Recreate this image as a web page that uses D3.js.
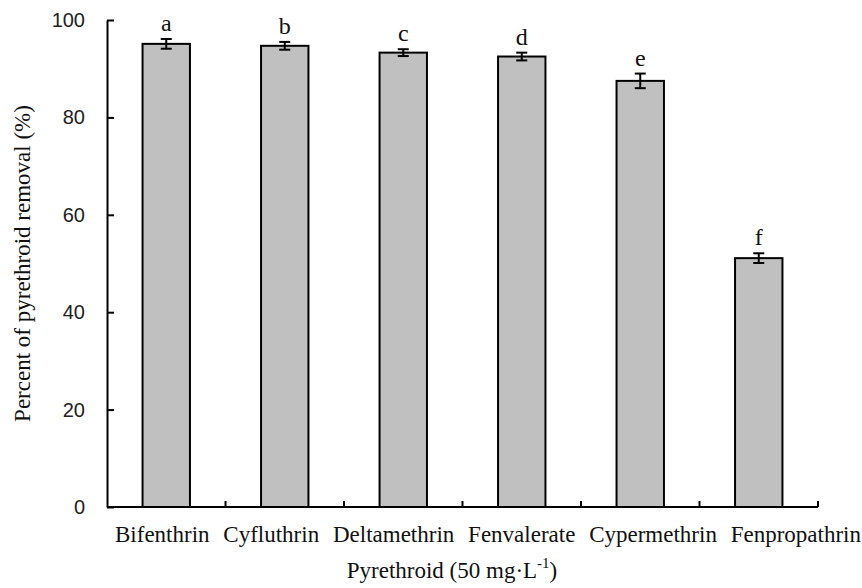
<!DOCTYPE html>
<html>
<head>
<meta charset="utf-8">
<script src="https://cdn.jsdelivr.net/npm/d3@7"></script>
<style>
  html, body { margin: 0; padding: 0; background: #fff; }
  svg { display: block; }
</style>
</head>
<body>
<svg id="chart" width="862" height="588"></svg>
<script>
// Pyrethroid removal by the strain, 50 mg/L initial concentration
const categories = ["Bifenthrin", "Cyfluthrin", "Deltamethrin", "Fenvalerate", "Cypermethrin", "Fenpropathrin"];
const removal = [95.1, 94.7, 93.3, 92.5, 87.5, 51.1];
const errors = [1.0, 0.8, 0.7, 0.8, 1.5, 1.0];
const groups = ["a", "b", "c", "d", "e", "f"];
const yTicks = [0, 20, 40, 60, 80, 100];

const svg = d3.select("#chart");
const margin = { left: 107, right: 44, top: 20, bottom: 81 };
const W = 862, H = 588;
const plotRight = W - margin.right;
const plotBottom = H - margin.bottom;

const serif = "'Liberation Serif', 'Times New Roman', serif";
const sans = "'Liberation Sans', Arial, sans-serif";

const x = d3.scaleBand().domain(categories).range([margin.left, plotRight]).padding(0);
const y = d3.scaleLinear().domain([0, 100]).range([plotBottom, margin.top]);

const barW = x.bandwidth() * 0.4;

// Bars
svg.append("g").selectAll("rect")
  .data(categories)
  .join("rect")
  .attr("x", (d) => x(d) + (x.bandwidth() - barW) / 2)
  .attr("y", (d, i) => y(removal[i]))
  .attr("width", barW)
  .attr("height", (d, i) => y(0) - y(removal[i]))
  .attr("fill", "#c0c0c0")
  .attr("stroke", "#000")
  .attr("stroke-width", 2);

// Error bars
const capW = 11;
const eb = svg.append("g").attr("stroke", "#000").attr("stroke-width", 2);
categories.forEach((c, i) => {
  const cx = x(c) + x.bandwidth() / 2;
  const hi = y(removal[i] + errors[i]);
  const lo = y(removal[i] - errors[i]);
  eb.append("line").attr("x1", cx).attr("x2", cx).attr("y1", hi).attr("y2", lo);
  eb.append("line").attr("x1", cx - capW / 2).attr("x2", cx + capW / 2).attr("y1", hi).attr("y2", hi);
  eb.append("line").attr("x1", cx - capW / 2).attr("x2", cx + capW / 2).attr("y1", lo).attr("y2", lo);
});

// Significance letters
svg.append("g").selectAll("text")
  .data(groups)
  .join("text")
  .attr("x", (d, i) => x(categories[i]) + x.bandwidth() / 2)
  .attr("y", (d, i) => y(removal[i] + errors[i]) - 8)
  .attr("text-anchor", "middle")
  .attr("font-family", serif)
  .attr("font-size", 24)
  .attr("fill", "#111")
  .text((d) => d);

// Y axis, ticks pointing inward
const yAxis = svg.append("g")
  .attr("transform", `translate(${margin.left},0)`)
  .call(d3.axisRight(y).tickValues(yTicks).tickSize(7).tickSizeOuter(0).tickFormat(d3.format("d")));
yAxis.select(".domain").attr("stroke", "#000").attr("stroke-width", 2);
yAxis.selectAll(".tick line").attr("stroke", "#000").attr("stroke-width", 2);
yAxis.selectAll(".tick text")
  .attr("x", -22)
  .attr("text-anchor", "end")
  .attr("font-family", sans)
  .attr("font-size", 20)
  .attr("fill", "#222");

// X axis: baseline with ticks at band boundaries pointing up
const xg = svg.append("g");
xg.append("line")
  .attr("x1", margin.left).attr("x2", plotRight)
  .attr("y1", plotBottom).attr("y2", plotBottom)
  .attr("stroke", "#000").attr("stroke-width", 2);
const boundaries = categories.slice(1).map((c) => x(c)).concat([plotRight]);
xg.selectAll("line.tk")
  .data(boundaries)
  .join("line")
  .attr("class", "tk")
  .attr("x1", (d) => d).attr("x2", (d) => d)
  .attr("y1", plotBottom).attr("y2", plotBottom - 6)
  .attr("stroke", "#000").attr("stroke-width", 2);

// Category labels laid out as a justified row under the axis
const labelY = plotBottom + 35;
const labels = xg.selectAll("text.cat")
  .data(categories)
  .join("text")
  .attr("class", "cat")
  .attr("y", labelY)
  .attr("font-family", serif)
  .attr("font-size", 23)
  .attr("fill", "#111")
  .text((d) => d);
const widths = labels.nodes().map((n) => n.getComputedTextLength());
const rowStart = 115, rowEnd = 861;
const gap = (rowEnd - rowStart - d3.sum(widths)) / (categories.length - 1);
let cursor = rowStart;
labels.attr("x", (d, i) => {
  const pos = cursor;
  cursor += widths[i] + gap;
  return pos;
});

// Axis titles
const xt = svg.append("text")
  .attr("x", 452)
  .attr("y", 578)
  .attr("text-anchor", "middle")
  .attr("font-family", serif)
  .attr("font-size", 23)
  .attr("fill", "#111");
xt.append("tspan").text("Pyrethroid (50 mg\u00B7L");
xt.append("tspan").attr("dy", -10).attr("font-size", 15).text("-1");
xt.append("tspan").attr("dy", 10).text(")");

svg.append("text")
  .attr("transform", `translate(30,${(margin.top + plotBottom) / 2}) rotate(-90)`)
  .attr("text-anchor", "middle")
  .attr("font-family", serif)
  .attr("font-size", 23)
  .attr("fill", "#111")
  .text("Percent of pyrethroid removal (%)");
</script>
</body>
</html>
